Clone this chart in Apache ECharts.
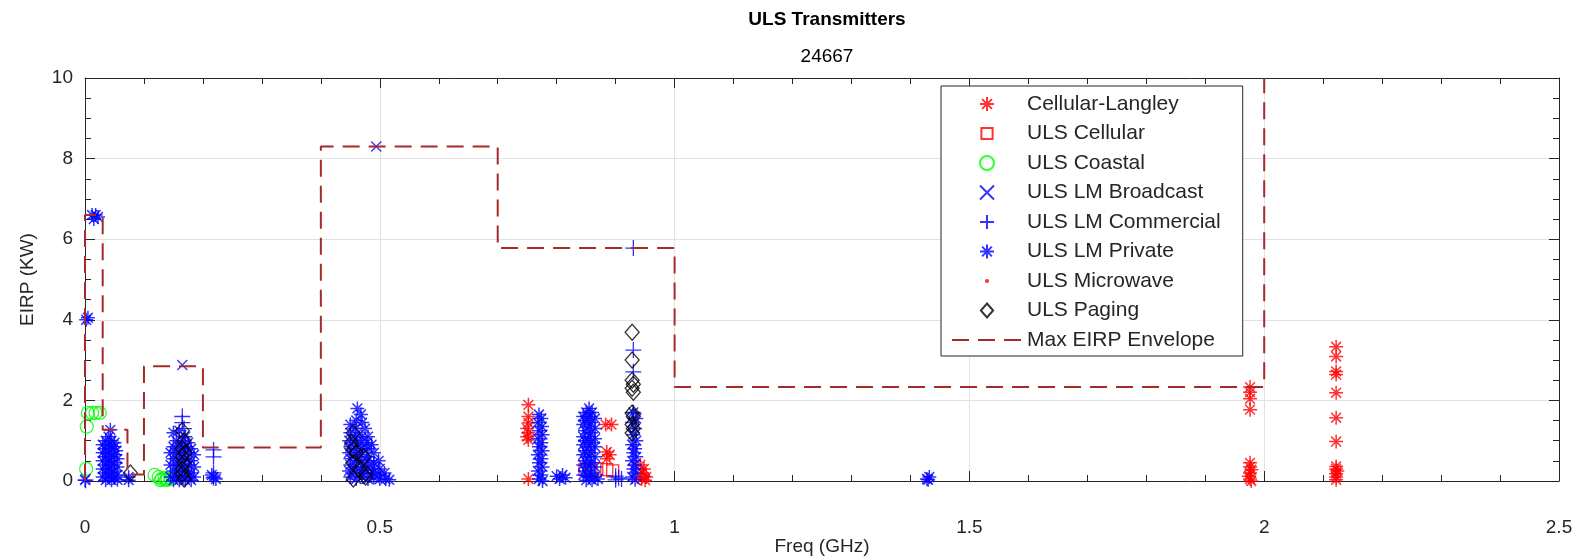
<!DOCTYPE html>
<html>
<head>
<meta charset="utf-8">
<title>ULS Transmitters</title>
<script src="https://cdn.jsdelivr.net/npm/echarts@6/dist/echarts.min.js"></script>
<style>
  html, body { margin: 0; padding: 0; background: #fff; }
  #chart { width: 1582px; height: 559px; }
</style>
</head>
<body>
<div id="chart"></div>
<script>
// values: [freq GHz, EIRP kW]
const cellularLangley = [
  [0.752, 1.89], [0.752, 1.6], [0.752, 1.44], [0.75, 1.3], [0.752, 1.2], [0.75, 1.1], [0.752, 1.02], [0.752, 0.05],
  [0.883, 1.4], [0.893, 1.4], [0.885, 0.72], [0.89, 0.65], [0.885, 0.55],
  [0.942, 0.4], [0.948, 0.3], [0.945, 0.2], [0.952, 0.1], [0.944, 0.05], [0.95, 0.02],
  [1.976, 2.33], [1.976, 2.2], [1.976, 2.04], [1.976, 1.77], [1.976, 0.45], [1.976, 0.35], [1.978, 0.28],
  [1.976, 0.2], [1.974, 0.12], [1.976, 0.05], [1.978, 0.0],
  [2.122, 3.33], [2.122, 3.09], [2.122, 2.72], [2.122, 2.64], [2.122, 2.19], [2.122, 1.57], [2.122, 0.98],
  [2.122, 0.36], [2.122, 0.3], [2.124, 0.25], [2.122, 0.18], [2.122, 0.1], [2.122, 0.03]
];
const ulsCellular = [
  [0.848, 0.28], [0.858, 0.25], [0.868, 0.3], [0.885, 0.28], [0.895, 0.25]
];
const ulsCoastal = [
  [0.005, 1.69], [0.012, 1.69], [0.018, 1.69], [0.025, 1.69], [0.003, 1.35], [0.002, 0.3],
  [0.118, 0.15], [0.125, 0.1], [0.13, 0.05], [0.135, 0.08], [0.14, 0.05], [0.128, 0.02], [0.138, 0.02], [0.145, 0.05]
];
const lmBroadcast = [
  [0.494, 8.3], [0.165, 2.88], [0.001, 0.05]
];
const lmCommercial = [
  [0.165, 1.6], [0.165, 1.45], [0.168, 1.3],
  [0.218, 0.77], [0.218, 0.6], [0.218, 0.2], [0.218, 0.08],
  [0.9, 0.03], [0.905, 0.08], [0.91, 0.05], [0.9, 0.12],
  [0.93, 5.78], [0.93, 3.25], [0.93, 2.71], [0.93, 1.69], [0.001, 0.02]
];
const lmPrivate = [
  [0.012, 6.6], [0.018, 6.6], [0.022, 6.55], [0.015, 6.5], [0.002, 4.0], [0.005, 4.05], [0.0, 0.02],
  // 0.03 - 0.06 GHz
  [0.043, 1.27], [0.04, 1.1], [0.035, 1.0], [0.045, 1.0], [0.05, 0.95], [0.03, 0.9], [0.04, 0.9], [0.05, 0.85],
  [0.034, 0.8], [0.044, 0.8], [0.053, 0.75], [0.03, 0.7], [0.04, 0.7], [0.05, 0.65], [0.035, 0.6], [0.045, 0.6],
  [0.055, 0.55], [0.03, 0.5], [0.04, 0.5], [0.05, 0.45], [0.035, 0.4], [0.045, 0.4], [0.055, 0.35], [0.03, 0.3],
  [0.04, 0.3], [0.05, 0.25], [0.035, 0.2], [0.045, 0.2], [0.055, 0.15], [0.03, 0.1], [0.04, 0.1], [0.05, 0.08],
  [0.035, 0.02], [0.045, 0.02], [0.055, 0.03],
  [0.074, 0.02], [0.074, 0.1],
  // 0.14 - 0.19 GHz
  [0.15, 1.2], [0.16, 1.25], [0.17, 1.1], [0.155, 1.0], [0.165, 1.0], [0.175, 0.95], [0.15, 0.85], [0.16, 0.85],
  [0.17, 0.85], [0.18, 0.8], [0.145, 0.7], [0.155, 0.7], [0.165, 0.7], [0.175, 0.7], [0.185, 0.65], [0.15, 0.55],
  [0.16, 0.55], [0.17, 0.55], [0.18, 0.5], [0.145, 0.4], [0.155, 0.4], [0.165, 0.4], [0.175, 0.4], [0.185, 0.35],
  [0.15, 0.25], [0.16, 0.25], [0.17, 0.25], [0.18, 0.2], [0.145, 0.1], [0.155, 0.1], [0.165, 0.1], [0.175, 0.1],
  [0.185, 0.1], [0.15, 0.02], [0.16, 0.02], [0.17, 0.02], [0.18, 0.02],
  [0.218, 0.1], [0.222, 0.05], [0.215, 0.15],
  // 0.44 - 0.52 GHz
  [0.462, 1.8], [0.468, 1.65], [0.46, 1.5], [0.47, 1.45], [0.45, 1.4], [0.458, 1.3], [0.475, 1.3], [0.45, 1.2],
  [0.46, 1.15], [0.47, 1.1], [0.48, 1.1], [0.448, 1.0], [0.458, 1.0], [0.468, 0.95], [0.478, 0.95], [0.486, 0.9],
  [0.45, 0.85], [0.46, 0.8], [0.47, 0.8], [0.48, 0.8], [0.49, 0.7], [0.448, 0.7], [0.458, 0.65], [0.468, 0.65],
  [0.478, 0.6], [0.45, 0.55], [0.46, 0.5], [0.47, 0.5], [0.48, 0.5], [0.49, 0.45], [0.498, 0.5], [0.45, 0.4],
  [0.46, 0.35], [0.47, 0.35], [0.48, 0.35], [0.49, 0.3], [0.5, 0.3], [0.448, 0.25], [0.458, 0.2], [0.468, 0.2],
  [0.478, 0.2], [0.488, 0.2], [0.498, 0.15], [0.508, 0.2], [0.45, 0.1], [0.46, 0.05], [0.47, 0.1], [0.48, 0.05],
  [0.49, 0.08], [0.5, 0.05], [0.51, 0.05], [0.516, 0.03],
  // 0.76 - 0.78 GHz
  [0.77, 1.65], [0.774, 1.55], [0.768, 1.45], [0.775, 1.35], [0.77, 1.25], [0.776, 1.15], [0.768, 1.05],
  [0.774, 0.95], [0.77, 0.85], [0.776, 0.75], [0.768, 0.65], [0.774, 0.55], [0.77, 0.45], [0.776, 0.35],
  [0.768, 0.25], [0.774, 0.15], [0.77, 0.05], [0.776, 0.0],
  [0.8, 0.12], [0.81, 0.15], [0.815, 0.08], [0.805, 0.05],
  // 0.84 - 0.87 GHz
  [0.855, 1.8], [0.85, 1.7], [0.86, 1.7], [0.845, 1.6], [0.855, 1.6], [0.865, 1.55], [0.848, 1.5], [0.858, 1.45],
  [0.845, 1.4], [0.855, 1.35], [0.865, 1.3], [0.848, 1.25], [0.858, 1.2], [0.845, 1.1], [0.855, 1.1], [0.865, 1.05],
  [0.848, 1.0], [0.858, 0.95], [0.845, 0.9], [0.855, 0.85], [0.865, 0.85], [0.848, 0.75], [0.858, 0.7], [0.845, 0.65],
  [0.855, 0.6], [0.865, 0.6], [0.848, 0.5], [0.858, 0.45], [0.845, 0.4], [0.855, 0.35], [0.865, 0.35], [0.848, 0.25],
  [0.858, 0.2], [0.845, 0.15], [0.855, 0.1], [0.865, 0.1], [0.85, 0.02], [0.86, 0.02], [0.87, 0.05],
  // 0.92 - 0.94 GHz
  [0.93, 1.7], [0.935, 1.55], [0.928, 1.45], [0.933, 1.3], [0.93, 1.15], [0.935, 1.0], [0.928, 0.9], [0.933, 0.8],
  [0.93, 0.7], [0.935, 0.6], [0.928, 0.5], [0.933, 0.4], [0.93, 0.3], [0.935, 0.2], [0.928, 0.1], [0.933, 0.03],
  [1.428, 0.05], [1.432, 0.1], [1.43, 0.03]
];
const ulsMicrowave = [
  [0.94, 0.1], [0.945, 0.2], [0.95, 0.05], [0.948, 0.3], [0.955, 0.12]
];
const ulsPaging = [
  [0.077, 0.2],
  [0.165, 1.25], [0.168, 1.0], [0.165, 0.8], [0.17, 0.7], [0.165, 0.6], [0.168, 0.45], [0.165, 0.3], [0.165, 0.18], [0.168, 0.05],
  [0.455, 1.19], [0.452, 0.95], [0.455, 0.78], [0.46, 0.7], [0.473, 0.6], [0.455, 0.45], [0.465, 0.3],
  [0.476, 0.2], [0.455, 0.05], [0.476, 0.1],
  [0.928, 3.69], [0.928, 3.0], [0.928, 2.5], [0.93, 2.4], [0.928, 2.3], [0.93, 2.2], [0.928, 1.69],
  [0.93, 1.6], [0.928, 1.4], [0.93, 1.3], [0.928, 1.19]
];
const maxEnvelope = [
  [0, 0], [0, 6.6], [0.03, 6.6], [0.03, 1.27], [0.072, 1.27], [0.072, 0.16], [0.1, 0.16], [0.1, 2.85],
  [0.2, 2.85], [0.2, 0.83], [0.4, 0.83], [0.4, 8.3], [0.7, 8.3], [0.7, 5.78], [1.0, 5.78], [1.0, 2.33],
  [2.0, 2.33], [2.0, 10]
];

// marker outlines; the stray M points pad the box so the legend icon stays small
const ASTERISK = "path://M10,0L10,20M0,10L20,10M3,3L17,17M3,17L17,3";
const PLUS = "path://M10,0L10,20M0,10L20,10";
const CROSS = "path://M0,0L20,20M0,20L20,0";
const SQUARE = "path://M0,0M20,20M2,2L18,2L18,18L2,18Z";
const DIAMOND = "path://M7,0L14,8L7,16L0,8Z";
const DOT = "path://M0,0M20,20M7,10A3,3,0,1,1,13,10A3,3,0,1,1,7,10Z";

const RED = "#ff0000", BLUE = "#0000ff", GREEN = "#00ff00", INK = "#262626";
const FONT = "Liberation Sans, Arial, Helvetica, sans-serif";

function hollow(name, data, symbol, size, color, width) {
  return {
    name: name,
    type: "scatter",
    data: data,
    symbol: symbol,
    symbolSize: size,
    itemStyle: { color: "rgba(0,0,0,0)", borderColor: color, borderWidth: width || 1.3 },
    emphasis: { disabled: true }
  };
}

const chart = echarts.init(document.getElementById("chart"));

const axisLine = { show: true, onZero: false, lineStyle: { color: INK, width: 1 } };
const axisTick = { show: true, inside: true, length: 10, lineStyle: { color: INK } };

const option = {
  animation: false,
  backgroundColor: "#fff",
  title: [
    {
      text: "ULS Transmitters",
      left: 822, top: 5, textAlign: "center",
      textStyle: { fontFamily: FONT, fontSize: 19, fontWeight: "bold", color: "#000" }
    },
    {
      text: "24667",
      left: 822, top: 42, textAlign: "center",
      textStyle: { fontFamily: FONT, fontSize: 19, fontWeight: "normal", color: "#000" }
    }
  ],
  grid: { left: 85, right: 23, top: 78, bottom: 78, show: false, outerBoundsMode: "none", containLabel: false },
  legend: {
    orient: "vertical",
    left: 941, top: 86,
    padding: [6, 22, 4, 10],
    itemWidth: 70, itemHeight: 14, itemGap: 5.5,
    selectedMode: false,
    backgroundColor: "#fff",
    borderColor: INK, borderWidth: 1,
    textStyle: { fontFamily: FONT, fontSize: 21, lineHeight: 24, color: INK },
    data: ["Cellular-Langley", "ULS Cellular", "ULS Coastal", "ULS LM Broadcast", "ULS LM Commercial",
           "ULS LM Private", "ULS Microwave", "ULS Paging",
           { name: "Max EIRP Envelope", itemStyle: { opacity: 0 } }]
  },
  xAxis: [
    {
      type: "value", min: 0, max: 2.5, interval: 0.5, position: "bottom",
      axisLine: axisLine, axisTick: axisTick,
      minorTick: { show: true, splitNumber: 5, length: 6, lineStyle: { color: INK } },
      splitLine: { show: true, lineStyle: { color: "#e2e2e2", width: 1 } },
      axisLabel: { margin: 37, fontFamily: FONT, fontSize: 19, color: INK },
      name: "Freq (GHz)", nameLocation: "middle", nameGap: 56, nameMoveOverlap: false,
      nameTextStyle: { fontFamily: FONT, fontSize: 19, color: INK }
    },
    {
      type: "value", min: 0, max: 2.5, interval: 0.5, position: "top",
      axisLine: axisLine, axisTick: axisTick,
      minorTick: { show: true, splitNumber: 5, length: 6, lineStyle: { color: INK } },
      splitLine: { show: false }, axisLabel: { show: false }
    }
  ],
  yAxis: [
    {
      type: "value", min: 0, max: 10, interval: 2, position: "left",
      axisLine: axisLine, axisTick: axisTick,
      minorTick: { show: true, splitNumber: 4, length: 6, lineStyle: { color: INK } },
      splitLine: { show: true, lineStyle: { color: "#e2e2e2", width: 1 } },
      axisLabel: { margin: 12, fontFamily: FONT, fontSize: 19, color: INK },
      name: "EIRP (KW)", nameLocation: "middle", nameGap: 48, nameRotate: 90, nameMoveOverlap: false,
      nameTextStyle: { fontFamily: FONT, fontSize: 19, color: INK }
    },
    {
      type: "value", min: 0, max: 10, interval: 2, position: "right",
      axisLine: axisLine, axisTick: axisTick,
      minorTick: { show: true, splitNumber: 4, length: 6, lineStyle: { color: INK } },
      splitLine: { show: false }, axisLabel: { show: false }
    }
  ],
  series: [
    hollow("Cellular-Langley", cellularLangley, ASTERISK, 14, RED, 1.5),
    hollow("ULS Cellular", ulsCellular, SQUARE, 15, RED),
    hollow("ULS Coastal", ulsCoastal, "circle", 13, GREEN),
    hollow("ULS LM Broadcast", lmBroadcast, CROSS, 10, BLUE),
    hollow("ULS LM Commercial", lmCommercial, PLUS, 16, BLUE),
    hollow("ULS LM Private", lmPrivate, ASTERISK, 14, BLUE, 1.5),
    {
      name: "ULS Microwave", type: "scatter", data: ulsMicrowave,
      symbol: DOT, symbolSize: 16, itemStyle: { color: RED },
      emphasis: { disabled: true }
    },
    hollow("ULS Paging", ulsPaging, DIAMOND, [14, 16], "#000000"),
    {
      name: "Max EIRP Envelope", type: "line", data: maxEnvelope,
      symbol: "none", showSymbol: false, clip: true,
      lineStyle: { color: "#a52a2a", width: 2, type: [17, 9] },
      itemStyle: { color: "#a52a2a" },
      emphasis: { disabled: true }
    }
  ]
};

chart.setOption(option);
</script>
</body>
</html>
